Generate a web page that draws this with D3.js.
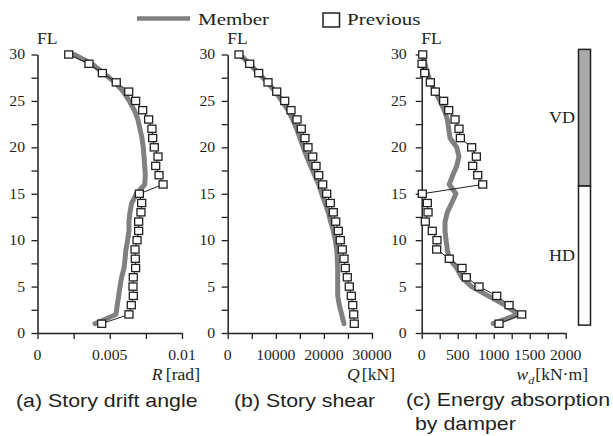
<!DOCTYPE html>
<html>
<head>
<meta charset="utf-8">
<script src="https://cdn.jsdelivr.net/npm/d3@7"></script>
<style>
  html, body { margin: 0; padding: 0; background: #fff; }
  svg { display: block; }
</style>
</head>
<body>
<svg id="chart" width="613" height="436"></svg>
<script>
// ---------------- DATA ----------------
const floors = [1,2,3,4,5,6,7,8,9,10,11,12,13,14,15,16,17,18,19,20,21,22,23,24,25,26,27,28,29,30];

const driftMember = [0.00398,0.00543,0.00552,0.00562,0.00571,0.00582,0.00599,0.00606,0.00612,0.00624,
                     0.00633,0.00633,0.00640,0.00652,0.00685,0.00742,0.00746,0.00742,0.00737,0.00732,
                     0.00723,0.00709,0.00695,0.00670,0.00635,0.00594,0.00536,0.00456,0.00375,0.00253];
const driftPrevious = [0.00444,0.00633,0.00649,0.00663,0.00661,0.00663,0.00679,0.00677,0.00675,0.00689,
                       0.00700,0.00700,0.00716,0.00721,0.00705,0.00869,0.00841,0.00818,0.00834,0.00808,
                       0.00797,0.00792,0.00769,0.00728,0.00679,0.00631,0.00545,0.00449,0.00356,0.00216];

const shearMember = [24180,23700,23200,22870,22870,22870,22870,22790,22660,22370,
                     21960,21410,20920,20230,19540,18920,18080,17250,16420,15720,
                     15030,14340,13510,12540,11290,9900,8240,6370,4500,2560];
const shearPrevious = [26320,26195,25990,25700,25280,24865,24450,24180,23825,23410,
                       22995,22455,21955,21330,20580,19750,18920,18360,17670,16695,
                       16070,15300,14410,13160,11850,10190,8380,6445,4575,2350];

const energyMember = [994,1342,1157,925,694,556,486,383,356,338,
                      324,324,356,417,476,383,431,486,518,486,
                      393,375,356,314,254,185,125,78,46,23];
const energyPrevious = [1074,1389,1213,1042,796,619,560,383,208,212,
                        147,50,88,78,8,847,778,708,759,694,
                        537,518,463,375,305,189,120,42,5,14];

const yTicks = [0,2.5,5,7.5,10,12.5,15,17.5,20,22.5,25,27.5,30];
const yTickLabels = [0,5,10,15,20,25,30];

const driftTicks = [0,0.0025,0.005,0.0075,0.01];
const driftTickLabels = ["0","0.005","0.01"];
const shearTicks = [0,5000,10000,15000,20000,25000,30000];
const shearTickLabels = ["0","10000","20000","30000"];
const energyTicks = [0,250,500,750,1000,1250,1500,1750,2000];
const energyTickLabels = ["0","500","1000","1500","2000"];

const zoneLabels = ["HD","VD"];
const zoneFrom = [0.85, 15.85];
const zoneTo = [15.85, 30.55];

const seriesNames = ["Member","Previous"];

// ---------------- STYLE / LAYOUT ----------------
const GRAY = "#808080";
const INK = "#231f20";
const SERIF = "'Liberation Serif','Times New Roman',serif";
const SANS = "'Liberation Sans',Arial,sans-serif";
const SX = 1.17;      // horizontal stretch of the original figure's text
const TICKSX = 1.05;
const TSX = 1.22;

const svg = d3.select("#chart");
const y = d3.scaleLinear().domain([0,30]).range([333,54.5]);

function txt(g, x, yy, s, opt) {
  opt = opt || {};
  const t = g.append("text")
    .attr("transform", `translate(${x},${yy}) scale(${opt.sx || SX},1)`)
    .attr("text-anchor", opt.anchor || "start")
    .attr("font-family", opt.family || SERIF)
    .attr("font-size", opt.size || 15)
    .attr("fill", INK);
  if (opt.dy) t.attr("dy", opt.dy);
  t.text(s);
  return t;
}

const panels = [
  {x0:37.5, x1:182, domain:[0,0.01], ticks:driftTicks, labels:driftTickLabels, member:driftMember, prev:driftPrevious, yLabOff:12.5},
  {x0:227.7, x1:372, domain:[0,30000], ticks:shearTicks, labels:shearTickLabels, member:shearMember, prev:shearPrevious, yLabOff:12.5},
  {x0:421.7, x1:565.7, domain:[0,2000], ticks:energyTicks, labels:energyTickLabels, member:energyMember, prev:energyPrevious, yLabOff:15}
];

panels.forEach((p, pi) => {
  const x = d3.scaleLinear().domain(p.domain).range([p.x0, p.x1]);
  const g = svg.append("g");

  // y axis
  const ya = g.append("g").attr("transform", `translate(${p.x0},0)`)
    .call(d3.axisLeft(y).tickValues(yTicks).tickSize(6).tickSizeOuter(0).tickFormat(""));
  ya.select(".domain").attr("stroke", INK).attr("stroke-width", 1.5);
  ya.selectAll(".tick line").attr("stroke", INK).attr("stroke-width", 1.3);
  yTickLabels.forEach(v => {
    txt(g, p.x0 - p.yLabOff, y(v), String(v), {anchor:"end", dy:"0.33em", sx:TICKSX});
  });

  // x axis
  const xa = g.append("g").attr("transform", `translate(0,${y(0)})`)
    .call(d3.axisBottom(x).tickValues(p.ticks).tickSize(6).tickSizeOuter(0).tickFormat(""));
  xa.select(".domain").attr("stroke", INK).attr("stroke-width", 1.5);
  xa.selectAll(".tick line").attr("stroke", INK).attr("stroke-width", 1.3);
  p.labels.forEach(l => {
    txt(g, x(+l), 360, l, {anchor:"middle", sx:TICKSX});
  });

  // FL label
  txt(g, p.x0 - 0.5, 44, "FL", {size:16, sx:1.1});

  // Member line
  const line = d3.line().x((d,i) => x(d)).y((d,i) => y(floors[i]));
  g.append("path").datum(p.member)
    .attr("d", line)
    .attr("fill", "none").attr("stroke", GRAY).attr("stroke-width", 5)
    .attr("stroke-linejoin", "round").attr("stroke-linecap", "round");

  // Previous line + markers
  g.append("path").datum(p.prev)
    .attr("d", line)
    .attr("fill", "none").attr("stroke", INK).attr("stroke-width", 1);
  g.selectAll("rect.mk").data(p.prev).enter().append("rect")
    .attr("class", "mk")
    .attr("x", d => x(d) - 4).attr("y", (d,i) => y(floors[i]) - 3.6)
    .attr("width", 8).attr("height", 7.2)
    .attr("fill", "#fff").attr("stroke", INK).attr("stroke-width", 1.3);
});

// axis titles
const tA = txt(svg, 200, 380, "", {anchor:"end", size:16, sx:1.1});
tA.append("tspan").attr("font-style","italic").text("R");
tA.append("tspan").attr("dx", 3).text("[rad]");
const tB = txt(svg, 395, 380, "", {anchor:"end", size:16, sx:1.1});
tB.append("tspan").attr("font-style","italic").text("Q");
tB.append("tspan").attr("dx", 2).text("[kN]");
const tC = txt(svg, 588, 380, "", {anchor:"end", size:16, sx:1.1});
tC.append("tspan").attr("font-style","italic").text("w");
tC.append("tspan").attr("font-style","italic").attr("font-size", 11).attr("dy", 4).text("d");
tC.append("tspan").attr("dy", -4).attr("dx", 1).text("[kN·m]");

// panel titles
txt(svg, 16, 407, "(a) Story drift angle", {family:SANS, size:17.5, sx:TSX});
txt(svg, 234, 407, "(b) Story shear", {family:SANS, size:17.5, sx:TSX});
txt(svg, 406, 406, "(c) Energy absorption", {family:SANS, size:17.5, sx:TSX});
txt(svg, 415, 430, "by damper", {family:SANS, size:17.5, sx:TSX});

// legend
svg.append("line").attr("x1", 137).attr("x2", 190).attr("y1", 18.5).attr("y2", 18.5)
  .attr("stroke", GRAY).attr("stroke-width", 4.5);
txt(svg, 198, 25, seriesNames[0], {size:17.5, sx:1.2});
svg.append("rect").attr("x", 323).attr("y", 13).attr("width", 16.5).attr("height", 14)
  .attr("fill", "#fff").attr("stroke", INK).attr("stroke-width", 1.5);
txt(svg, 347, 25, seriesNames[1], {size:17.5, sx:1.2});

// damper zone bar
const bar = svg.append("g");
zoneLabels.forEach((lab, i) => {
  bar.append("rect")
    .attr("x", 578.5).attr("width", 12)
    .attr("y", y(zoneTo[i])).attr("height", y(zoneFrom[i]) - y(zoneTo[i]))
    .attr("fill", lab === "VD" ? "#a9a9a9" : "#fff")
    .attr("stroke", INK).attr("stroke-width", 1.5);
  txt(bar, 575, y((zoneFrom[i] + zoneTo[i]) / 2), lab, {anchor:"end", size:17.5, sx:1.03, dy:"0.33em"});
});
</script>
</body>
</html>
